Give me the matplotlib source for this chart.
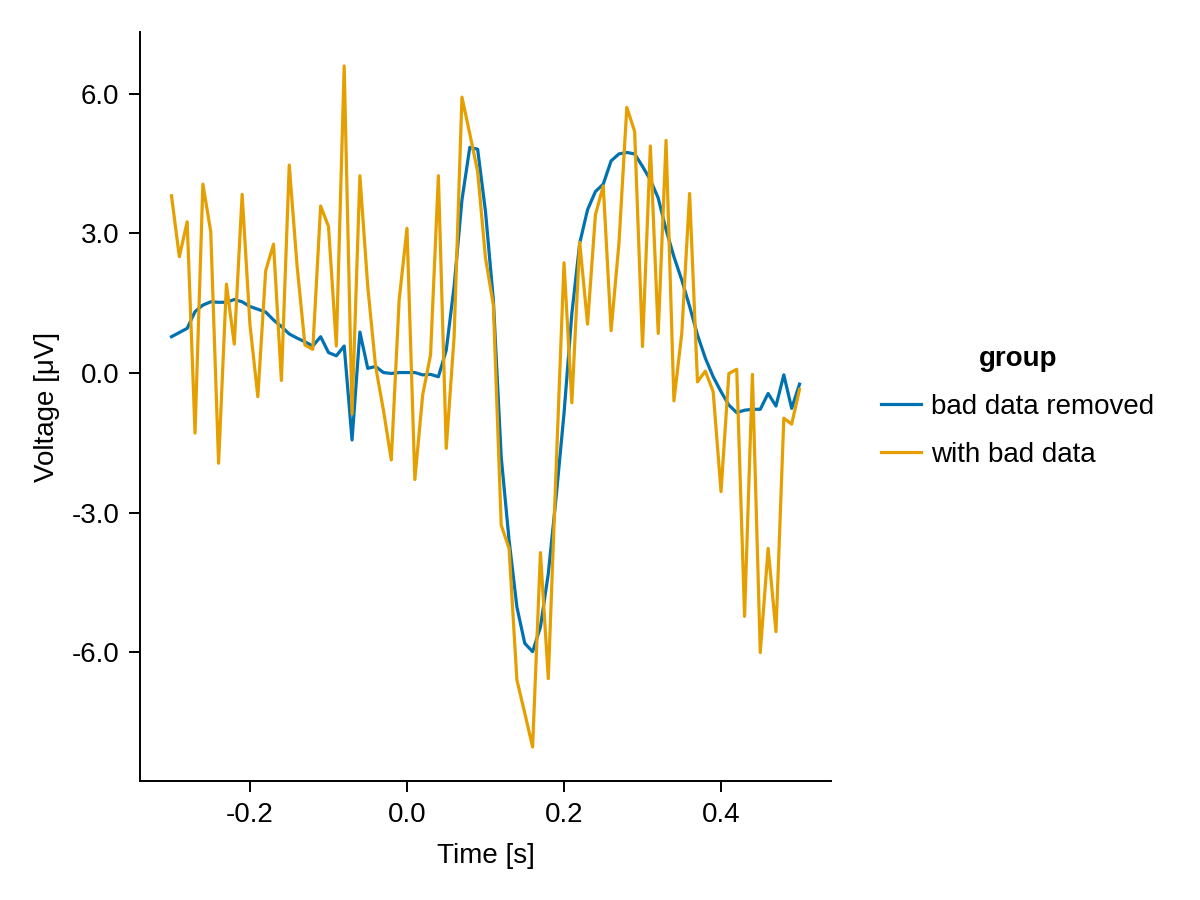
import numpy as np
import matplotlib
matplotlib.use('Agg')
import matplotlib.pyplot as plt
from matplotlib.ticker import FormatStrFormatter

# 時間軸 (-0.3 s 〜 0.5 s, 0.01 s 刻み)
time = np.round(np.arange(-0.30, 0.501, 0.01), 2)

# bad data removed
clean = [0.78, 0.87, 0.96, 1.32, 1.46, 1.53, 1.52, 1.52, 1.58, 1.53,
         1.43, 1.37, 1.31, 1.14, 1.00, 0.84, 0.75, 0.67, 0.58, 0.78,
         0.44, 0.37, 0.58, -1.44, 0.88, 0.10, 0.14, 0.01, -0.01, 0.01,
         0.01, 0.01, -0.04, -0.03, -0.08, 0.49, 1.86, 3.72, 4.85, 4.81,
         3.47, 1.57, -1.80, -3.59, -5.03, -5.81, -5.99, -5.46, -4.31, -2.66,
         -0.87, 1.28, 2.79, 3.51, 3.90, 4.06, 4.56, 4.71, 4.74, 4.71,
         4.44, 4.15, 3.76, 3.08, 2.50, 2.00, 1.43, 0.82, 0.32, -0.08,
         -0.40, -0.69, -0.85, -0.80, -0.78, -0.78, -0.44, -0.71, -0.04, -0.76,
         -0.24]

# with bad data
noisy = [3.81, 2.50, 3.25, -1.29, 4.06, 3.04, -1.94, 1.91, 0.62, 3.84,
         1.03, -0.51, 2.20, 2.77, -0.16, 4.47, 2.30, 0.60, 0.51, 3.59,
         3.15, 0.58, 6.60, -0.88, 4.24, 1.86, 0.14, -0.80, -1.87, 1.57,
         3.11, -2.29, -0.47, 0.39, 4.24, -1.62, 0.78, 5.93, 5.14, 4.33,
         2.47, 1.46, -3.27, -3.77, -6.60, -7.31, -8.04, -3.86, -6.57, -2.04,
         2.37, -0.64, 2.81, 1.05, 3.40, 4.02, 0.91, 2.79, 5.71, 5.19,
         0.57, 4.88, 0.85, 5.00, -0.60, 0.85, 3.86, -0.19, 0.04, -0.40,
         -2.55, -0.01, 0.08, -5.23, -0.03, -6.01, -3.77, -5.56, -0.97, -1.10,
         -0.35]

groups = ['bad data removed', 'with bad data']
colors = ['#0072B2', '#E69F00']

plt.rcParams['font.family'] = ['Liberation Sans', 'DejaVu Sans']
plt.rcParams['font.size'] = 20
plt.rcParams['axes.unicode_minus'] = False

fig = plt.figure(figsize=(12, 9), dpi=100)
ax = fig.add_axes([140/1200, 1 - 781/900, (831 - 140)/1200, (781 - 32)/900])

for series, name, c in zip([clean, noisy], groups, colors):
    ax.plot(time, series, color=c, lw=2.3, label=name)

ax.set_xlim(-0.3401, 0.5401)
ax.set_ylim(-8.77, 7.33)
ax.set_xticks([-0.2, 0.0, 0.2, 0.4])
ax.set_yticks([-6, -3, 0, 3, 6])
ax.xaxis.set_major_formatter(FormatStrFormatter('%.1f'))
ax.yaxis.set_major_formatter(FormatStrFormatter('%.1f'))
ax.tick_params(direction='out', length=8, width=1.4, pad=7)
for s in ['top', 'right']:
    ax.spines[s].set_visible(False)
for s in ['left', 'bottom']:
    ax.spines[s].set_linewidth(1.4)

ax.set_xlabel('Time [s]', labelpad=11)
ax.set_ylabel('Voltage [μV]', labelpad=8)

fig.legend(loc='center left', bbox_to_anchor=(856/1200, 1 - 407/900),
           title='group', title_fontproperties={'weight': 'bold', 'size': 20},
           frameon=False, handlelength=1.45, handletextpad=0.36, labelspacing=0.78)

fig.savefig('out.png', dpi=100)
